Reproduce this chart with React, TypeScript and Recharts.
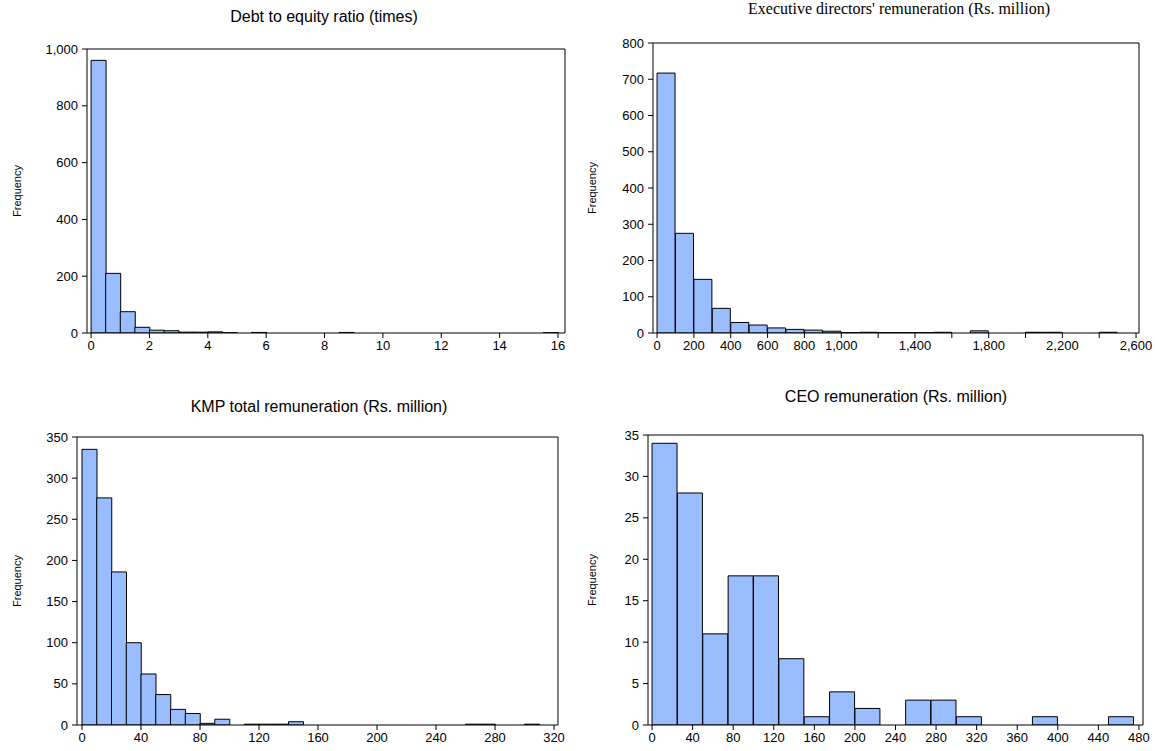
import React from 'react';
import { BarChart, Bar, XAxis, YAxis, ReferenceLine, Label } from 'recharts';

// bin counts (zero = empty bin)
const debtBinWidth = 0.5;
const debtCounts = [
  960, 210, 75, 20, 10, 8, 3, 3, 4, 1, 0, 2, 0, 0, 0, 0,
  0, 2, 0, 0, 0, 0, 0, 0, 0, 0, 0, 0, 0, 0, 0, 1,
];
const debtXTicks = [0, 2, 4, 6, 8, 10, 12, 14, 16];
const debtYTicks = [0, 200, 400, 600, 800, 1000];

const execBinWidth = 100;
const execCounts = [
  717, 275, 148, 68, 29, 22, 14, 10, 8, 5, 1, 2, 1, 1, 1, 2,
  0, 6, 0, 0, 2, 2, 0, 0, 2,
];
const execXTicks = [0, 200, 400, 600, 800, 1000, 1200, 1400, 1600, 1800, 2000, 2200, 2400, 2600];
const execXLabels = [0, 200, 400, 600, 800, 1000, 1400, 1800, 2200, 2600];
const execYTicks = [0, 100, 200, 300, 400, 500, 600, 700, 800];

const kmpBinWidth = 10;
const kmpCounts = [
  335, 276, 186, 100, 62, 37, 19, 14, 2, 7, 0, 1, 1, 1, 4, 0,
  0, 0, 0, 0, 0, 0, 0, 0, 0, 0, 1, 1, 0, 0, 1,
];
const kmpXTicks = [0, 40, 80, 120, 160, 200, 240, 280, 320];
const kmpYTicks = [0, 50, 100, 150, 200, 250, 300, 350];

const ceoBinWidth = 25;
const ceoCounts = [34, 28, 11, 18, 18, 8, 1, 4, 2, 0, 3, 3, 1, 0, 0, 1, 0, 0, 1];
const ceoXTicks = [0, 40, 80, 120, 160, 200, 240, 280, 320, 360, 400, 440, 480];
const ceoYTicks = [0, 5, 10, 15, 20, 25, 30, 35];

const FONT = '"Liberation Sans", Arial, sans-serif';
const BAR_FILL = '#99bdff';

const fmt = (v: number) => v.toLocaleString('en-US');

type Box = { l: number; r: number; t: number; b: number };

const Histogram = ({ box, counts, binWidth, xDomain, xTicks, xLabels, yTicks, freqX }: {
  box: Box; counts: number[]; binWidth: number; xDomain: [number, number];
  xTicks: number[]; xLabels?: number[]; yTicks: number[]; freqX: number;
}) => {
  const data = counts.map((c, i) => ({ mid: (i + 0.5) * binWidth, count: c }));
  const yMax = yTicks[yTicks.length - 1];
  const left = box.l - 90;
  const tickStyle = { fontSize: 13, fill: '#000', fontFamily: FONT };

  const xTick = (p: any) => {
    if (xLabels && !xLabels.includes(p.payload.value)) return null;
    return (
      <text x={p.x} y={p.y} dy="0.71em" textAnchor="middle" {...tickStyle}>
        {fmt(p.payload.value)}
      </text>
    );
  };

  return (
    <div style={{ position: 'absolute', left, top: box.t - 10 }}>
      <BarChart
        width={box.r - box.l + 115}
        height={box.b - box.t + 40}
        data={data}
        margin={{ top: 10, right: 25, left: 0, bottom: 0 }}
        barCategoryGap={0}
        barGap={0}
      >
        <XAxis
          type="number" dataKey="mid" domain={xDomain} allowDataOverflow
          ticks={xTicks} interval={0} height={30} tickSize={5} tickMargin={3}
          stroke="#000" tick={xTick}
        />
        <YAxis
          type="number" domain={[0, yMax]} allowDataOverflow ticks={yTicks} interval={0}
          width={90} tickSize={5} tickMargin={4} stroke="#000" tick={tickStyle}
          tickFormatter={fmt}
          label={
            <Label
              content={(p: any) => {
                const vb = p.viewBox;
                const cx = freqX - left;
                const cy = vb.y + vb.height / 2;
                return (
                  <text x={cx} y={cy} dy="0.35em" textAnchor="middle" fontSize={11}
                    fontFamily={FONT} fill="#000" transform={`rotate(-90 ${cx} ${cy})`}>
                    Frequency
                  </text>
                );
              }}
            />
          }
        />
        <ReferenceLine y={yMax} stroke="#000" />
        <ReferenceLine x={xDomain[1]} stroke="#000" />
        <Bar dataKey="count" fill={BAR_FILL} stroke="#000" strokeWidth={1} isAnimationActive={false} />
      </BarChart>
    </div>
  );
};

const Title = ({ text, cx, cy, serif }: { text: string; cx: number; cy: number; serif?: boolean }) => (
  <div style={{
    position: 'absolute', left: cx - 300, width: 600, top: cy - (serif ? 8.1 : 7.8),
    textAlign: 'center', fontSize: 16, lineHeight: '16px', whiteSpace: 'nowrap', color: '#000',
    fontFamily: serif ? '"Liberation Serif", "Times New Roman", serif' : FONT,
  }}>
    {text}
  </div>
);

export default function App() {
  return (
    <div style={{
      position: 'absolute', left: 0, top: 0, width: 1155, height: 751,
      background: '#fff', overflow: 'hidden', fontFamily: FONT,
    }}>
      <Title text="Debt to equity ratio (times)" cx={324} cy={17} />
      <Title text="Executive directors' remuneration (Rs. million)" cx={899} cy={9} serif />
      <Title text="KMP total remuneration (Rs. million)" cx={319} cy={407} />
      <Title text="CEO remuneration (Rs. million)" cx={896} cy={397} />

      <Histogram
        box={{ l: 87, r: 565, t: 49, b: 333 }} counts={debtCounts} binWidth={debtBinWidth}
        xDomain={[-0.14, 16.24]} xTicks={debtXTicks} yTicks={debtYTicks} freqX={17}
      />
      <Histogram
        box={{ l: 653, r: 1139, t: 43, b: 333 }} counts={execCounts} binWidth={execBinWidth}
        xDomain={[-22, 2616]} xTicks={execXTicks} xLabels={execXLabels} yTicks={execYTicks} freqX={592}
      />
      <Histogram
        box={{ l: 77, r: 558, t: 437, b: 725 }} counts={kmpCounts} binWidth={kmpBinWidth}
        xDomain={[-3.4, 322.7]} xTicks={kmpXTicks} yTicks={kmpYTicks} freqX={17}
      />
      <Histogram
        box={{ l: 648, r: 1143, t: 435, b: 725 }} counts={ceoCounts} binWidth={ceoBinWidth}
        xDomain={[-4, 484]} xTicks={ceoXTicks} yTicks={ceoYTicks} freqX={592}
      />
    </div>
  );
}
